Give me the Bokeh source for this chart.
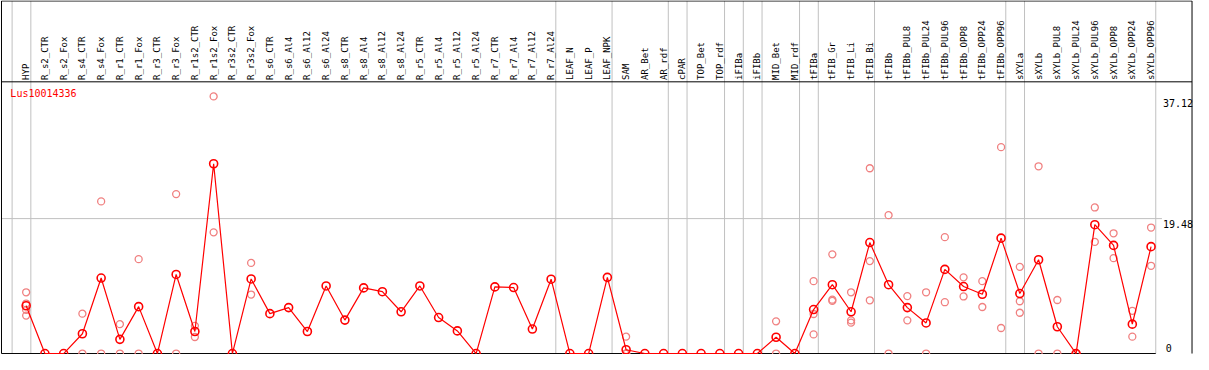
import math
from bokeh.plotting import figure
from bokeh.models import Range1d
from bokeh.core.properties import value
from bokeh.embed import file_html
from bokeh.resources import INLINE

# ---------------- data ----------------
gene = "Lus10014336"

categories = [
    "HYP", "R_s2_CTR", "R_s2_Fox", "R_s4_CTR", "R_s4_Fox", "R_r1_CTR", "R_r1_Fox",
    "R_r3_CTR", "R_r3_Fox", "R_r1s2_CTR", "R_r1s2_Fox", "R_r3s2_CTR", "R_r3s2_Fox",
    "R_s6_CTR", "R_s6_Al4", "R_s6_Al12", "R_s6_Al24", "R_s8_CTR", "R_s8_Al4",
    "R_s8_Al12", "R_s8_Al24", "R_r5_CTR", "R_r5_Al4", "R_r5_Al12", "R_r5_Al24",
    "R_r7_CTR", "R_r7_Al4", "R_r7_Al12", "R_r7_Al24", "LEAF_N", "LEAF_P", "LEAF_NPK",
    "SAM", "AR_Bet", "AR_rdf", "cPAR", "TOP_Bet", "TOP_rdf", "iFIBa", "iFIBb",
    "MID_Bet", "MID_rdf", "tFIBa", "tFIB_Gr", "tFIB_Li", "tFIB_Bi", "tFIBb",
    "tFIBb_PUL8", "tFIBb_PUL24", "tFIBb_PUL96", "tFIBb_OPP8", "tFIBb_OPP24",
    "tFIBb_OPP96", "sXYLa", "sXYLb", "sXYLb_PUL8", "sXYLb_PUL24", "sXYLb_PUL96",
    "sXYLb_OPP8", "sXYLb_OPP24", "sXYLb_OPP96",
]

mean_values = [
    6.9, 0, 0, 2.86, 10.9, 2.05, 6.77, 0, 11.42, 3.18, 27.4, 0, 10.77,
    5.76, 6.63, 3.18, 9.76, 4.83, 9.48, 8.93, 6.03, 9.76, 5.2, 3.27, 0,
    9.62, 9.53, 3.54, 10.73, 0, 0, 11.0, 0.55, 0, 0, 0, 0, 0, 0, 0,
    2.35, 0, 6.35, 9.94, 6.03, 16.02, 9.94, 6.63, 4.42, 12.15, 9.67, 8.56,
    16.66, 8.66, 13.54, 3.87, 0, 18.6, 15.61, 4.24, 15.43,
]

# replicate values, keyed by category
replicates = {
    "HYP": [8.84, 7.22, 6.3, 5.48],
    "R_s4_CTR": [5.76, 0], "R_s4_Fox": [21.96, 0], "R_r1_CTR": [4.24, 0],
    "R_r1_Fox": [13.63, 0], "R_r3_Fox": [23.02, 0], "R_r1s2_CTR": [4.0, 2.39],
    "R_r1s2_Fox": [37.12, 17.5], "R_r3s2_Fox": [13.08, 8.52],
    "SAM": [2.44, 0, 0, 0], "MID_Bet": [4.65, 0],
    "tFIBa": [10.45, 5.71, 2.76], "tFIB_Gr": [14.32, 7.77, 7.6],
    "tFIB_Li": [8.84, 4.79, 4.46], "tFIB_Bi": [26.75, 13.35, 7.69],
    "tFIBb": [19.98, 0], "tFIBb_PUL8": [8.29, 4.79], "tFIBb_PUL24": [8.84, 0],
    "tFIBb_PUL96": [16.8, 7.41], "tFIBb_OPP8": [11.0, 8.24],
    "tFIBb_OPP24": [10.45, 6.72], "tFIBb_OPP96": [29.79, 3.69],
    "sXYLa": [12.52, 7.55, 5.89], "sXYLb": [27.03, 0], "sXYLb_PUL8": [7.73, 0],
    "sXYLb_PUL24": [0, 0], "sXYLb_PUL96": [21.09, 16.12],
    "sXYLb_OPP8": [17.36, 13.77], "sXYLb_OPP24": [6.17, 2.44],
    "sXYLb_OPP96": [18.19, 12.67],
}

# indices after which a group separator line is drawn
group_ends = [-1, 0, 28, 31, 34, 35, 37, 38, 39, 41, 42, 45, 52, 53, 60]

y_ticks = [0, 19.48, 37.12]
y_tick_labels = ["0", "19.48", "37.12"]

# ---------------- layout helpers ----------------
PX_X = 19.0      # reference px per category
PX_Y = 7.24      # reference px per unit
def xr(px):      # reference pixel x -> data x
    return (px - 26) / PX_X
def yr(py):      # reference pixel y -> data y
    return (369 - py) / PX_Y

p = figure(width=1193, height=354,
           x_range=Range1d(xr(0), xr(1209)), y_range=Range1d(yr(370), yr(0)),
           output_backend="svg", toolbar_location=None,
           x_axis_type=None, y_axis_type=None, min_border=0,
           outline_line_color=None)
p.grid.visible = False
p.background_fill_color = "white"
p.border_fill_color = "white"

xs = list(range(len(categories)))
left, right = xr(1), xr(1207.5)
top, head = yr(0.5), yr(85)

# separators
sep_x = [g + 0.25 for g in group_ends]
p.segment(x0=sep_x, y0=[0] * len(sep_x), x1=sep_x, y1=[top] * len(sep_x),
          line_color="#c0c0c0", line_width=1)

# horizontal gridline at the middle tick
p.segment(x0=[left], y0=[y_ticks[1]], x1=[xr(1177)], y1=[y_ticks[1]],
          line_color="#c0c0c0", line_width=1)

# frame
p.segment(x0=[left, right, left, left, left], y0=[0, 0, top, head, 0],
          x1=[left, right, right, right, sep_x[-1]], y1=[top, top, top, head, 0],
          line_color="black", line_width=1)

# header labels
p.text(x=xs, y=[yr(83)] * len(xs), text=categories, angle=math.pi / 2,
       text_align="left", text_baseline="middle",
       text_font=value("DejaVu Sans Mono"), text_font_size="9px",
       text_color="black")

# gene label
p.text(x=[xr(10)], y=[yr(97)], text=[gene], text_align="left",
       text_baseline="middle", text_font=value("DejaVu Sans Mono"),
       text_font_size="10px", text_color="red")

# tick labels
p.text(x=[xr(1178)] * 2, y=y_ticks[1:], y_offset=[1, 3], text=y_tick_labels[1:],
       text_align="left", text_baseline="top",
       text_font=value("DejaVu Sans Mono"), text_font_size="10px",
       text_color="black")
p.text(x=[xr(1181)], y=[y_ticks[0]], y_offset=-2, text=y_tick_labels[:1],
       text_align="left", text_baseline="bottom",
       text_font=value("DejaVu Sans Mono"), text_font_size="10px",
       text_color="black")

# replicates
rx, ry = [], []
for i, c in enumerate(categories):
    for v in replicates.get(c, []):
        rx.append(i)
        ry.append(v)
p.scatter(rx, ry, marker="circle", size=7, fill_color=None,
          line_color="#f08080", line_width=1.3)

# mean line + markers
p.line(xs, mean_values, line_color="red", line_width=1.2)
p.scatter(xs, mean_values, marker="circle", size=8, fill_color=None,
          line_color="red", line_width=1.6)

open("out.html", "w").write(file_html(p, INLINE))
